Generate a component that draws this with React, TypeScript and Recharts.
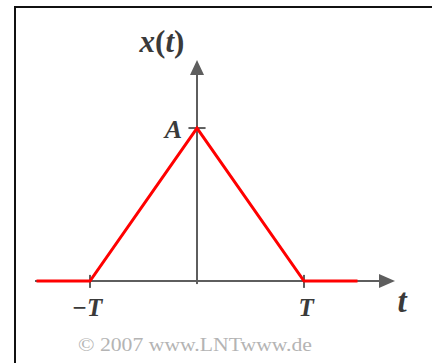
import React from 'react';
import { LineChart, Line, XAxis, YAxis, ReferenceLine, ReferenceDot } from 'recharts';

// triangle pulse x(t): zero outside |t| < T, peak A at t = 0 (T = 1, A = 1)
const T_VALUES = [-1.5, -1, 0, 1, 1.5];
const X_VALUES = [0, 0, 1, 0, 0];
const TICK_POSITIONS = [-1, 1];
const TICK_LABELS = ['\u2212T', 'T'];
const PEAK_LABEL = 'A';

const W = 432;
const H = 363;
const X_DOMAIN: [number, number] = [-1.841, 2.196];
const Y_DOMAIN: [number, number] = [-0.536, 1.837];

const AXIS = '#5e5e5e';
const TEXT = '#3a3a3a';
const SERIF = '"Liberation Serif", "DejaVu Serif", serif';

const data = T_VALUES.map((t, i) => ({ t, x: X_VALUES[i] }));

const arrowRight = (p: any) => (
  <polygon points={`${p.cx},${p.cy} ${p.cx - 16},${p.cy - 7} ${p.cx - 16},${p.cy + 7}`} fill={AXIS} />
);
const arrowUp = (p: any) => (
  <polygon points={`${p.cx},${p.cy} ${p.cx - 7},${p.cy + 15} ${p.cx + 7},${p.cy + 15}`} fill={AXIS} />
);
const noDot = () => <g />;

const textAt = (label: React.ReactNode, dx: number, dy: number, size: number, anchor = 'middle') =>
  (p: any) => (
    <text
      x={p.cx + dx}
      y={p.cy + dy}
      textAnchor={anchor}
      fontFamily={SERIF}
      fontSize={size}
      fontWeight="bold"
      fontStyle="italic"
      fill={TEXT}
    >
      {label}
    </text>
  );

export default function App() {
  return (
    <div style={{ position: 'fixed', left: 0, top: 0, width: W, height: H, background: '#fff', overflow: 'hidden' }}>
      <div
        style={{
          position: 'absolute',
          left: 14,
          top: 6,
          width: W,
          height: H,
          borderTop: '2px solid #111',
          borderLeft: '2px solid #111',
        }}
      />
      <div style={{ position: 'absolute', left: 0, top: 0 }}>
        <LineChart width={W} height={H} data={data} margin={{ top: 0, right: 0, bottom: 0, left: 0 }}>
          <XAxis type="number" dataKey="t" domain={X_DOMAIN} hide allowDataOverflow />
          <YAxis type="number" domain={Y_DOMAIN} hide allowDataOverflow />

          {/* axes */}
          <ReferenceLine segment={[{ x: -1.514, y: 0 }, { x: 1.72, y: 0 }]} stroke={AXIS} strokeWidth={2} />
          <ReferenceLine segment={[{ x: 0, y: -0.02 }, { x: 0, y: 1.36 }]} stroke={AXIS} strokeWidth={2} />
          <ReferenceDot x={1.85} y={0} r={0} shape={arrowRight} />
          <ReferenceDot x={0} y={1.445} r={0} shape={arrowUp} />

          {/* ticks at ±T and at A */}
          {TICK_POSITIONS.map((t) => (
            <ReferenceLine key={t} segment={[{ x: t, y: -0.045 }, { x: t, y: 0.04 }]} stroke={AXIS} strokeWidth={2} />
          ))}
          <ReferenceLine segment={[{ x: -0.08, y: 1 }, { x: 0.08, y: 1 }]} stroke={AXIS} strokeWidth={2} />

          <Line
            type="linear"
            dataKey="x"
            stroke="#ff0000"
            strokeWidth={3}
            dot={noDot}
            activeDot={false}
            isAnimationActive={false}
          />

          {/* labels */}
          {TICK_POSITIONS.map((t, i) => (
            <ReferenceDot key={`l${t}`} x={t} y={0} r={0} shape={textAt(TICK_LABELS[i], i === 0 ? -3 : 2, 35, 25)} />
          ))}
          <ReferenceDot x={0} y={1} r={0} shape={textAt(PEAK_LABEL, -15, 10, 26, 'end')} />
          <ReferenceDot
            x={0}
            y={1.445}
            r={0}
            shape={textAt(
              <>
                <tspan>x</tspan>
                <tspan fontStyle="normal">(</tspan>
                <tspan>t</tspan>
                <tspan fontStyle="normal">)</tspan>
              </>,
              -35,
              -8,
              31
            )}
          />
          <ReferenceDot x={1.85} y={0} r={0} shape={textAt('t', 7, 31, 33)} />

          <text
            x={78}
            y={351}
            fontFamily={SERIF}
            fontSize={19}
            fill="#b4b4b4"
            textLength={234}
            lengthAdjust="spacingAndGlyphs"
          >
            © 2007 www.LNTwww.de
          </text>
        </LineChart>
      </div>
    </div>
  );
}
